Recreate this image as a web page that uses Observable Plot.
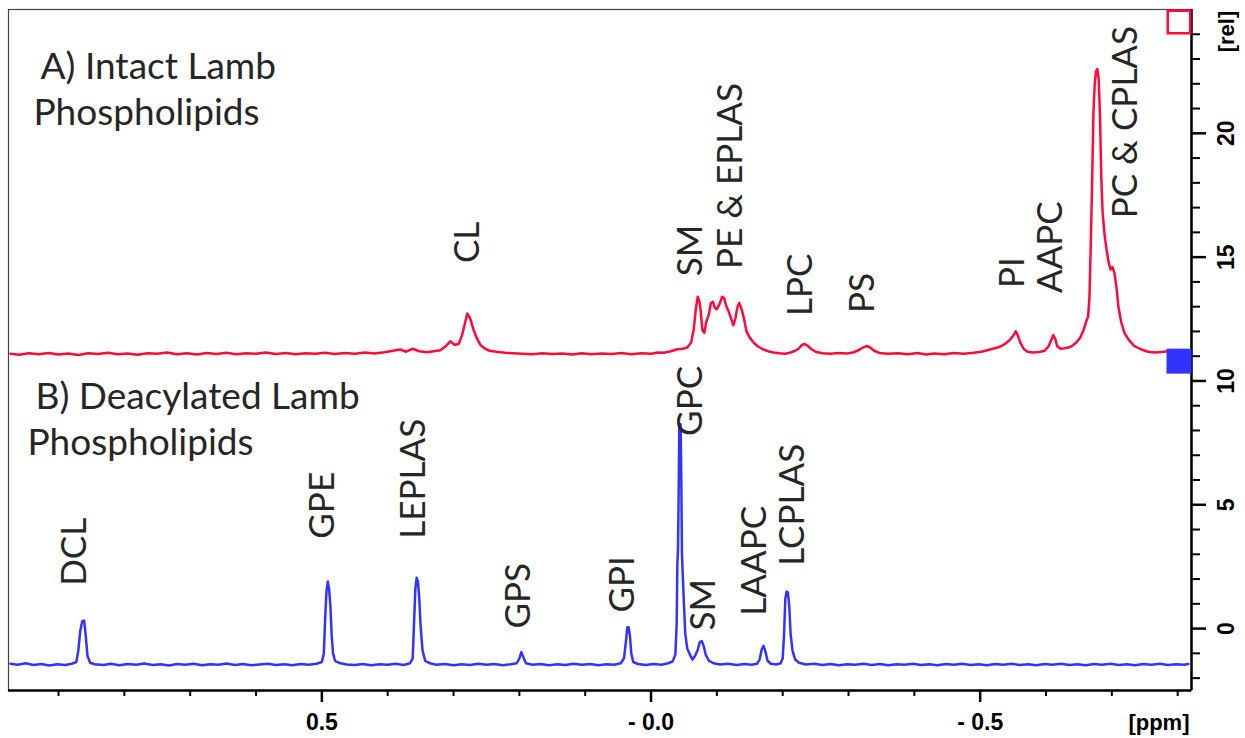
<!DOCTYPE html>
<html><head><meta charset="utf-8">
<script src="https://cdn.jsdelivr.net/npm/d3@7"></script>
<script src="https://cdn.jsdelivr.net/npm/@observablehq/plot@0.6"></script>
<style>body{margin:0;background:#fff;}#chart svg{display:block;}</style>
</head><body><div id="chart"></div>
<script>
// Spectrum A (intact), [ppm, rel]
const intactSpectrum = [
[0.973,11.10],[0.960,11.06],[0.945,11.12],[0.930,11.08],[0.915,11.13],[0.900,11.07],[0.885,11.11],[0.870,11.05],[0.855,11.12],[0.840,11.09],[0.825,11.14],[0.810,11.08],[0.795,11.11],[0.780,11.06],[0.765,11.12],[0.750,11.10],[0.735,11.15],[0.720,11.08],[0.705,11.12],[0.690,11.07],[0.675,11.13],[0.660,11.09],[0.645,11.14],[0.630,11.08],[0.615,11.12],[0.600,11.10],[0.585,11.15],[0.570,11.09],[0.555,11.13],[0.540,11.08],[0.525,11.12],[0.510,11.10],[0.495,11.14],[0.480,11.09],[0.465,11.13],[0.450,11.10],[0.435,11.15],[0.420,11.11],[0.405,11.16],[0.392,11.22],[0.381,11.27],[0.372,11.18],[0.362,11.30],[0.352,11.20],[0.340,11.16],[0.330,11.20],[0.320,11.24],[0.312,11.40],[0.305,11.60],[0.298,11.45],[0.292,11.50],[0.287,11.85],[0.282,12.40],[0.279,12.72],[0.275,12.55],[0.270,12.10],[0.265,11.75],[0.259,11.45],[0.252,11.30],[0.245,11.22],[0.235,11.18],[0.222,11.14],[0.210,11.12],[0.195,11.10],
[0.180,11.08],[0.165,11.12],[0.150,11.09],[0.135,11.11],[0.120,11.07],[0.105,11.12],[0.090,11.08],[0.075,11.11],[0.060,11.09],[0.045,11.13],[0.030,11.08],[0.015,11.12],[0.000,11.10],[-0.010,11.15],[-0.020,11.14],[-0.030,11.20],[-0.040,11.28],[-0.048,11.30],[-0.055,11.35],[-0.061,11.55],[-0.065,12.10],[-0.068,12.90],[-0.071,13.40],[-0.073,13.25],[-0.075,12.95],[-0.078,12.05],[-0.081,11.95],[-0.084,12.40],[-0.088,12.70],[-0.091,13.15],[-0.094,13.20],[-0.097,12.95],[-0.100,12.90],[-0.104,13.10],[-0.108,13.40],[-0.111,13.35],[-0.114,13.05],[-0.118,12.80],[-0.122,12.50],[-0.125,12.25],[-0.128,12.50],[-0.131,12.95],[-0.134,13.15],[-0.137,12.95],[-0.141,12.55],[-0.145,12.00],[-0.150,11.75],[-0.156,11.55],[-0.162,11.40],[-0.170,11.28],[-0.178,11.20],[-0.186,11.15],[-0.195,11.12],[-0.204,11.10],[-0.212,11.15],[-0.219,11.22],[-0.224,11.30],[-0.229,11.45],[-0.233,11.50],[-0.238,11.42],[-0.243,11.30],[-0.250,11.18],[-0.260,11.12],[-0.272,11.10],[-0.285,11.13],[-0.298,11.11],[-0.308,11.16],[-0.316,11.25],[-0.322,11.35],[-0.328,11.42],[-0.333,11.35],[-0.339,11.22],[-0.347,11.13],[-0.360,11.10],[-0.375,11.12],[-0.390,11.08],[-0.405,11.13],[-0.418,11.07],[-0.430,11.11],[-0.445,11.08],[-0.460,11.13],[-0.475,11.10],[-0.490,11.14],[-0.502,11.18],[-0.512,11.25],[-0.522,11.32],[-0.530,11.38],[-0.538,11.50],[-0.545,11.65],[-0.550,11.82],[-0.554,12.00],[-0.557,11.85],[-0.561,11.55],[-0.566,11.30],[-0.572,11.18],[-0.580,11.15],[-0.590,11.17],[-0.598,11.22],[-0.604,11.40],[-0.608,11.65],[-0.611,11.85],[-0.614,11.70],[-0.617,11.40],[-0.622,11.30],[-0.628,11.32],[-0.634,11.35],[-0.640,11.42],[-0.646,11.55],[-0.652,11.75],[-0.657,12.05],[-0.661,12.40],[-0.664,12.60],[-0.666,13.40],[-0.668,15.50],[-0.670,18.00],[-0.672,20.80],[-0.674,22.00],[-0.676,22.50],[-0.678,22.60],[-0.680,22.20],[-0.682,20.70],[-0.684,18.20],[-0.686,16.80],[-0.689,15.90],[-0.692,15.30],[-0.695,14.80],[-0.698,14.50],[-0.701,14.60],[-0.704,14.35],[-0.707,13.80],[-0.710,13.00],[-0.714,12.40],[-0.719,11.95],[-0.726,11.65],[-0.734,11.42],[-0.744,11.28],[-0.755,11.18],[-0.765,11.15],[-0.775,11.17],[-0.785,11.20]
];
// Spectrum B (deacylated), [ppm, rel]
const deacylatedSpectrum = [
[0.973,-1.42],[0.962,-1.46],[0.950,-1.40],[0.938,-1.47],[0.926,-1.43],[0.914,-1.49],[0.902,-1.44],[0.890,-1.47],[0.880,-1.42],[0.873,-1.35],[0.870,-0.90],[0.867,-0.10],[0.864,0.30],[0.861,0.32],[0.859,-0.20],[0.856,-1.10],[0.852,-1.38],[0.845,-1.44],[0.832,-1.47],[0.820,-1.42],[0.808,-1.48],[0.795,-1.43],[0.782,-1.46],[0.770,-1.41],[0.757,-1.47],[0.745,-1.44],[0.732,-1.49],[0.720,-1.43],[0.707,-1.46],[0.695,-1.42],[0.682,-1.48],[0.670,-1.44],[0.657,-1.46],[0.645,-1.41],[0.632,-1.47],[0.620,-1.43],[0.607,-1.48],[0.595,-1.45],[0.582,-1.42],[0.570,-1.47],[0.557,-1.44],[0.545,-1.48],[0.532,-1.43],[0.520,-1.46],[0.508,-1.42],[0.500,-1.35],[0.497,-1.00],[0.495,0.40],[0.493,1.50],[0.491,1.90],[0.489,1.60],[0.487,0.90],[0.485,-0.30],[0.483,-1.00],[0.480,-1.30],[0.472,-1.40],[0.462,-1.45],
[0.450,-1.47],[0.438,-1.43],[0.425,-1.48],[0.412,-1.44],[0.400,-1.46],[0.388,-1.42],[0.376,-1.47],[0.366,-1.40],[0.362,-1.20],[0.360,0.20],[0.358,1.60],[0.356,2.05],[0.354,1.90],[0.352,1.20],[0.350,0.10],[0.347,-0.90],[0.343,-1.30],[0.336,-1.40],[0.326,-1.46],[0.313,-1.43],[0.300,-1.48],[0.288,-1.44],[0.275,-1.47],[0.262,-1.42],[0.250,-1.46],[0.238,-1.43],[0.225,-1.48],[0.213,-1.44],[0.204,-1.40],[0.200,-1.20],[0.197,-0.95],[0.194,-1.15],[0.190,-1.40],[0.180,-1.46],[0.168,-1.43],[0.155,-1.48],[0.142,-1.44],[0.130,-1.47],[0.118,-1.42],[0.105,-1.46],[0.092,-1.43],[0.080,-1.48],[0.068,-1.44],[0.056,-1.46],[0.046,-1.40],[0.041,-1.20],[0.038,-0.50],[0.036,0.05],[0.034,0.05],[0.032,-0.30],[0.030,-1.00],[0.027,-1.35],[0.020,-1.43],[0.008,-1.47],[-0.004,-1.43],[-0.016,-1.46],[-0.026,-1.40],[-0.033,-1.32],[-0.037,-1.05],[-0.039,0.20],[-0.040,2.60],[-0.041,3.20],[-0.042,5.50],[-0.043,8.25],[-0.045,8.25],[-0.046,6.00],[-0.047,3.00],[-0.048,2.30],[-0.050,1.00],[-0.052,-0.20],[-0.055,-0.80],[-0.059,-1.05],[-0.063,-1.25],[-0.067,-1.10],[-0.071,-0.85],[-0.074,-0.55],[-0.077,-0.50],[-0.080,-0.70],[-0.083,-1.05],[-0.088,-1.30],[-0.095,-1.40],[-0.105,-1.45],[-0.117,-1.42],[-0.130,-1.47],[-0.142,-1.43],[-0.153,-1.46],[-0.161,-1.42],[-0.165,-1.25],[-0.168,-0.85],[-0.171,-0.70],[-0.174,-0.95],[-0.177,-1.30],[-0.182,-1.42],[-0.190,-1.45],[-0.197,-1.40],[-0.200,-1.20],[-0.202,-0.30],[-0.204,1.20],[-0.206,1.50],[-0.208,1.45],[-0.210,0.90],[-0.212,-0.20],[-0.215,-0.90],[-0.219,-1.25],[-0.225,-1.38],[-0.235,-1.45],[-0.248,-1.42],[-0.260,-1.47],[-0.273,-1.43],[-0.285,-1.48],[-0.298,-1.44],[-0.310,-1.46],[-0.323,-1.42],[-0.335,-1.47],[-0.348,-1.43],[-0.360,-1.48],[-0.373,-1.44],[-0.385,-1.46],[-0.398,-1.42],[-0.410,-1.47],[-0.423,-1.44],[-0.435,-1.48],[-0.448,-1.43],[-0.460,-1.46],[-0.473,-1.42],[-0.485,-1.47],[-0.498,-1.44],[-0.510,-1.48],[-0.523,-1.43],[-0.535,-1.46],[-0.548,-1.42],[-0.560,-1.47],[-0.573,-1.44],[-0.585,-1.48],[-0.598,-1.43],[-0.610,-1.46],[-0.623,-1.42],[-0.635,-1.47],[-0.648,-1.44],[-0.660,-1.48],[-0.673,-1.43],[-0.685,-1.46],[-0.698,-1.42],[-0.710,-1.47],[-0.723,-1.44],[-0.735,-1.48],[-0.748,-1.43],[-0.760,-1.46],[-0.773,-1.42],[-0.785,-1.47],[-0.798,-1.44],[-0.810,-1.46],[-0.816,-1.43]
];
// Peak labels
const intactLabels = ["CL","SM","PE & EPLAS","LPC","PS","PI","AAPC","PC & CPLAS"];
const intactLabelPpm = [0.279,-0.060,-0.121,-0.227,-0.321,-0.549,-0.607,-0.721];
const intactLabelRel = [14.76,14.23,14.52,12.62,12.74,13.75,13.55,16.57];
const deacylatedLabels = ["DCL","GPE","LEPLAS","GPS","GPI","GPC","SM","LAAPC","LCPLAS"];
const deacylatedLabelPpm = [0.875,0.499,0.361,0.201,0.043,-0.060,-0.080,-0.158,-0.215];
const deacylatedLabelRel = [1.73,3.63,3.63,0.0,0.65,7.78,-0.08,0.52,2.54];
const panelTitleA = ["A) Intact Lamb","Phospholipids"];
const panelTitleB = ["B) Deacylated Lamb","Phospholipids"];
// Axes
const xDomain = [0.976, -0.821];
const yDomain = [-2.5, 25];
const xMajorTicks = [0.5, 0.0, -0.5];
const xMinorTicks = [0.9,0.8,0.7,0.6,0.4,0.3,0.2,0.1,-0.1,-0.2,-0.3,-0.4,-0.6,-0.7,-0.8];
const yMajorTicks = [0, 5, 10, 15, 20];
const yMinorTicks = [-2,-1,1,2,3,4,6,7,8,9,11,12,13,14,16,17,18,19,21,22,23,24];
const xUnit = "[ppm]";
const yUnit = "[rel]";
const offsetMarkers = [24.5, 10.8];

const RED = "#ff0a3a", BLUE = "#3333ff", INK = "#262626";
const labelFont = "Lato, 'Open Sans', sans-serif";
const axisFont = "'Liberation Sans', Arial, sans-serif";
const fmtX = d => d === 0.5 ? "0.5" : "- " + Math.abs(d).toFixed(1);
const idx = a => a.map((_, i) => i);

const chart = Plot.plot({
  width: 1245, height: 738,
  marginTop: 9, marginBottom: 48, marginLeft: 8, marginRight: 54,
  x: {domain: xDomain, axis: null},
  y: {domain: yDomain, axis: null},
  style: {background: "#fff", overflow: "visible"},
  marks: [
    Plot.frame({stroke: "#444", strokeWidth: 1.2}),
    Plot.ruleY([yDomain[0]], {stroke: "#000", strokeWidth: 2.5}),
    Plot.ruleX([xDomain[1]], {stroke: "#000", strokeWidth: 2.5}),
    Plot.axisX(xMinorTicks, {anchor: "bottom", tickSize: 6, strokeWidth: 2, fill: null, label: null}),
    Plot.axisX(xMajorTicks, {anchor: "bottom", tickSize: 12, strokeWidth: 2.5, fill: null, label: null}),
    Plot.axisY(yMinorTicks, {anchor: "right", tickSize: 8, strokeWidth: 2, fill: null, label: null}),
    Plot.axisY(yMajorTicks, {anchor: "right", tickSize: 14, strokeWidth: 2.5, fill: null, label: null}),
    Plot.text(xMajorTicks, {x: d => d, text: fmtX, frameAnchor: "bottom", lineAnchor: "middle", textAnchor: "middle", dy: 32, fontSize: 23, fontWeight: "bold", fontFamily: axisFont, fill: "#000"}),
    Plot.text([xUnit], {text: d => d, frameAnchor: "bottom-right", lineAnchor: "middle", textAnchor: "end", dx: -2, dy: 32, fontSize: 22, fontWeight: "bold", fontFamily: axisFont, fill: "#000"}),
    Plot.text(yMajorTicks, {y: d => d, text: d => String(d), frameAnchor: "right", lineAnchor: "middle", textAnchor: "middle", dx: 35, rotate: -90, fontSize: 23, fontWeight: "bold", fontFamily: axisFont, fill: "#000"}),
    Plot.text([yUnit], {text: d => d, frameAnchor: "top-right", lineAnchor: "middle", textAnchor: "middle", dx: 35, dy: 22, rotate: -90, fontSize: 22, fontWeight: "bold", fontFamily: axisFont, fill: "#000"}),
    Plot.line(intactSpectrum, {x: d => d[0], y: d => d[1], stroke: RED, strokeWidth: 2.5}),
    Plot.line(deacylatedSpectrum, {x: d => d[0], y: d => d[1], stroke: BLUE, strokeWidth: 2.5}),
    Plot.dot([offsetMarkers[0]], {y: d => d, frameAnchor: "right", dx: -12.5, symbol: "square", r: 12.7, stroke: RED, strokeWidth: 2.5, fill: "none"}),
    Plot.dot([offsetMarkers[1]], {y: d => d, frameAnchor: "right", dx: -12.5, symbol: "square", r: 14.1, fill: BLUE, stroke: "none"}),
    Plot.text(idx(intactLabels), {x: i => intactLabelPpm[i], y: i => intactLabelRel[i], text: i => intactLabels[i], rotate: -90, textAnchor: "start", fontSize: 35, fontFamily: labelFont, fill: INK}),
    Plot.text(idx(deacylatedLabels), {x: i => deacylatedLabelPpm[i], y: i => deacylatedLabelRel[i], text: i => deacylatedLabels[i], rotate: -90, textAnchor: "start", fontSize: 35, fontFamily: labelFont, fill: INK}),
    Plot.text([panelTitleA[0]], {text: d => d, frameAnchor: "top-left", dx: 32, dy: 43, lineAnchor: "top", textAnchor: "start", fontSize: 37, fontFamily: labelFont, fill: INK}),
    Plot.text([panelTitleA[1]], {text: d => d, frameAnchor: "top-left", dx: 25, dy: 89, lineAnchor: "top", textAnchor: "start", fontSize: 37, fontFamily: labelFont, fill: INK}),
    Plot.text([panelTitleB[0]], {text: d => d, frameAnchor: "top-left", dx: 27, dy: 373, lineAnchor: "top", textAnchor: "start", fontSize: 37, fontFamily: labelFont, fill: INK}),
    Plot.text([panelTitleB[1]], {text: d => d, frameAnchor: "top-left", dx: 19, dy: 419, lineAnchor: "top", textAnchor: "start", fontSize: 37, fontFamily: labelFont, fill: INK})
  ]
});
document.getElementById("chart").appendChild(chart);
</script>
</body></html>
